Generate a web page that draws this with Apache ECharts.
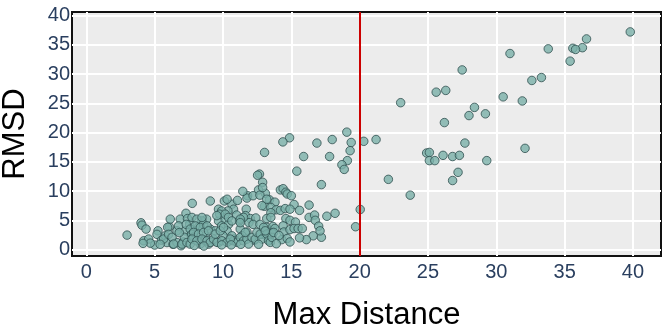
<!DOCTYPE html>
<html>
<head>
<meta charset="utf-8">
<script src="https://cdn.jsdelivr.net/npm/echarts@6/dist/echarts.min.js"></script>
<style>
  html, body { margin: 0; padding: 0; background: #fff; }
  #chart { width: 664px; height: 332px; }
</style>
</head>
<body>
<div id="chart"></div>
<script>
// [max distance, rmsd]
const highPoints = [
  [39.8,37.2],[36.6,36.0],[36.3,34.5],[35.6,34.4],[35.8,34.2],[35.4,32.2],[33.8,34.3],[31.0,33.5],
  [33.3,29.4],[32.6,28.9],[27.5,30.7],[30.5,26.1],[31.9,25.4],[25.6,26.9],[26.3,27.2],[23.0,25.1],
  [28.4,24.3],[28.0,22.9],[29.2,23.2],[26.2,21.7],[20.3,18.5],[21.2,18.8],[27.7,18.2],[32.1,17.3],
  [24.9,16.5],[25.1,16.6],[26.1,16.1],[26.8,15.9],[27.3,16.1],[25.1,15.2],[25.5,15.2],[29.3,15.2],
  [27.2,13.2],[26.8,11.8],[22.1,12.0],[23.7,9.3]
];
const midPoints = [
  [19.06,20.07],[14.87,19.1],[14.38,18.4],[17.99,18.8],[16.87,18.2],[19.38,18.3],[13.04,16.6],[19.3,16.9],
  [15.9,15.9],[17.8,15.9],[19.1,15.2],[18.7,14.5],[18.87,13.7],[15.4,13.4],[12.67,12.9],[12.53,12.7],
  [12.9,11.5],[17.2,11.1],[14.2,10.2],[14.4,10.4],[14.6,9.8],[14.7,9.5],[15.0,9.2],[12.6,10.2],
  [13.1,9.6],[11.8,9.2],[11.75,8.8],[12.2,9.2],[12.7,9.3],[13.4,8.5],[13.8,8.1],[15.2,7.7],
  [16.3,7.6],[15.6,6.7],[20.04,6.85],[13.04,7.4],[13.5,7.2],[13.9,6.8],[14.2,6.7],[14.55,7.0],
  [14.9,6.9],[11.7,6.9],[13.5,6.3],[11.65,5.8],[12.0,5.3],[12.4,5.4],[13.2,5.3],[13.5,5.5],
  [14.6,5.3],[14.9,5.0],[15.3,4.7],[16.3,5.5],[16.7,5.9],[16.75,5.0],[17.0,4.0],[17.6,5.7],
  [18.2,6.2],[19.7,3.9],[11.9,4.6],[12.2,4.3],[12.7,4.3],[13.2,3.8],[13.65,3.95],[13.8,3.6],
  [14.4,4.05],[14.45,3.0],[14.9,3.4],[15.2,3.6],[15.5,3.6],[15.8,3.6],[16.6,2.35],[17.2,2.1],
  [17.1,3.2],[16.1,1.7],[12.3,1.6],[13.4,1.7],[14.3,1.7],[14.7,1.9],[11.75,3.0],[12.85,2.6],
  [13.1,2.5],[13.6,2.8],[11.45,9.95],[12.9,10.6],[13.2,8.6],[12.85,7.5]
];
const lowPoints = [
  [2.98,2.47],[4.0,4.57],[4.07,4.17],[4.37,3.5],[4.2,1.5],[4.56,1.8],[5.0,0.77],[4.68,1.1],
  [5.24,3.2],[5.17,2.6],[5.5,1.6],[5.78,2.35],[6.07,3.9],[6.14,5.2],[5.9,1.2],[6.34,0.9],
  [6.63,1.2],[6.93,0.65],[7.1,1.3],[6.87,5.2],[7.29,6.2],[7.4,5.3],[7.75,7.9],[7.56,4.3],
  [7.24,3.2],[7.66,2.5],[7.97,3.2],[8.1,1.8],[8.34,0.94],[8.2,3.8],[8.58,4.3],[8.8,5.2],
  [8.45,4.9],[9.07,8.3],[8.7,2.35],[9.07,3.5],[9.43,3.2],[9.3,1.5],[9.67,1.2],[8.95,0.94],
  [8.7,1.5],[9.67,4.9],[10.16,5.2],[9.9,4.05],[10.4,4.3],[10.3,3.2],[10.0,2.35],[10.5,1.5],
  [10.8,1.8],[10.1,8.3],[10.65,7.75],[11.06,8.4],[10.77,6.9],[10.36,6.6],[11.0,5.9],[11.2,4.9],
  [11.5,5.5],[11.26,3.5],[11.4,2.35],[4.15,1.06],[5.65,1.8],[5.95,3.8],[6.02,2.6],[6.27,2.1],
  [6.39,0.94],[6.63,3.2],[6.75,4.05],[7.0,0.94],[7.17,2.1],[7.31,4.3],[7.6,3.5],[7.72,2.6],
  [7.36,1.2],[7.6,0.94],[7.84,2.1],[10.3,8.6],[9.67,6.9],[9.9,6.6],[9.75,6.05],[10.16,6.05],
  [10.4,5.5],[10.65,4.9],[9.55,5.8],[11.26,5.2],[11.26,4.6],[7.73,5.49],[8.09,5.2],[8.46,5.49],
  [7.97,4.05],[8.34,3.78],[8.83,4.05],[7.85,2.93],[8.21,2.64],[8.58,2.93],[8.94,3.2],[7.73,1.79],
  [8.09,1.5],[8.46,1.79],[8.83,1.5],[9.07,1.23],[9.31,1.79],[9.56,1.23],[9.92,1.5],[10.29,1.23],
  [9.43,2.64],[9.8,3.2],[10.04,3.78],[10.65,2.35],[10.77,1.5],[11.02,1.23],[10.53,1.79],[11.26,2.08],
  [11.5,1.5],[11.75,1.79],[11.63,2.93],[11.87,0.94],[12.12,2.08],[12.36,1.79],[12.48,2.93],[12.72,2.64],
  [12.85,1.79],[12.97,3.78],[13.21,2.64],[13.33,1.5],[13.46,1.23],[13.58,2.08],[13.7,2.93],[13.09,3.2],
  [5.4,0.9],[7.9,0.7],[8.6,0.6],[9.9,0.8],[10.6,0.8],[11.3,0.9],[12.6,0.9],[13.9,1.0],
  [14.9,1.3],[15.6,2.0],[14.1,2.4],[6.8,2.9]
];
const xTicks = [0, 5, 10, 15, 20, 25, 30, 35, 40];
const yTicks = [0, 5, 10, 15, 20, 25, 30, 35, 40];
const cutoff = 20;

const tickFont = { color: '#2a3f5f', fontSize: 20, fontFamily: 'Liberation Sans, Arial, sans-serif' };
const titleFont = { color: '#000', fontSize: 31, fontFamily: 'Liberation Sans, Arial, sans-serif' };
const gridLine = { show: true, lineStyle: { color: '#ffffff', width: 2 } };

const chart = echarts.init(document.getElementById('chart'));
chart.setOption({
  backgroundColor: '#ffffff',
  animation: false,
  grid: {
    left: 72, right: 3, top: 12, bottom: 76,
    show: true, backgroundColor: '#ececec',
    borderColor: '#111', borderWidth: 2,
    outerBoundsMode: 'none'
  },
  xAxis: {
    type: 'value', min: -1.05, max: 42.05,
    name: 'Max Distance', nameLocation: 'middle', nameGap: 44,
    nameTextStyle: titleFont,
    axisLine: { show: false }, axisTick: { show: false, customValues: xTicks },
    axisLabel: Object.assign({ customValues: xTicks, margin: 6 }, tickFont),
    splitLine: gridLine
  },
  yAxis: {
    type: 'value', min: -1.1, max: 40.6,
    name: 'RMSD', nameLocation: 'middle', nameGap: 41, nameRotate: 90,
    nameTextStyle: titleFont,
    axisLabel: Object.assign({ customValues: yTicks, margin: 2 }, tickFont),
    axisLine: { show: false }, axisTick: { show: false, customValues: yTicks },
    splitLine: gridLine
  },
  series: [{
    type: 'scatter',
    data: highPoints.concat(midPoints, lowPoints),
    symbolSize: 8.5,
    itemStyle: { color: '#7bb0a9', borderColor: '#2f4f4f', borderWidth: 1 },
    markLine: {
      silent: true, symbol: 'none', label: { show: false },
      lineStyle: { color: '#cc0000', width: 2, type: 'solid' },
      data: [{ xAxis: cutoff }]
    }
  }]
});
</script>
</body>
</html>
